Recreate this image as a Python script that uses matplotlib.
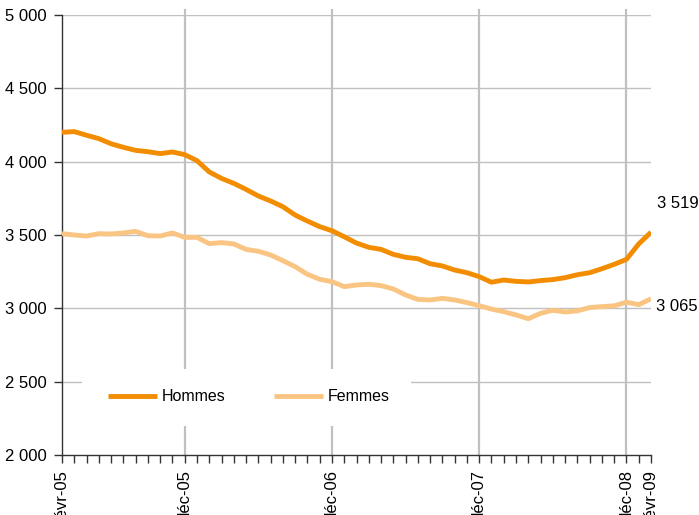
import matplotlib
matplotlib.use("Agg")
import matplotlib.pyplot as plt
from matplotlib.patches import Rectangle

plt.rcParams['font.family'] = ['Liberation Sans', 'DejaVu Sans']

months = ["févr-05", "mars-05", "avr-05", "mai-05", "juin-05", "juil-05", "août-05", "sept-05", "oct-05", "nov-05", "déc-05",
          "janv-06", "févr-06", "mars-06", "avr-06", "mai-06", "juin-06", "juil-06", "août-06", "sept-06", "oct-06", "nov-06", "déc-06",
          "janv-07", "févr-07", "mars-07", "avr-07", "mai-07", "juin-07", "juil-07", "août-07", "sept-07", "oct-07", "nov-07", "déc-07",
          "janv-08", "févr-08", "mars-08", "avr-08", "mai-08", "juin-08", "juil-08", "août-08", "sept-08", "oct-08", "nov-08", "déc-08",
          "janv-09", "févr-09"]

hommes = [4200, 4205, 4180, 4157, 4122, 4098, 4077, 4068, 4055, 4066, 4048,
          4007, 3930, 3886, 3852, 3811, 3766, 3732, 3693, 3636, 3595, 3557, 3529,
          3488, 3445, 3416, 3402, 3368, 3348, 3338, 3304, 3289, 3261, 3243, 3216,
          3178, 3193, 3184, 3180, 3189, 3196, 3209, 3229, 3243, 3270, 3300, 3334,
          3439, 3519]

femmes = [3509, 3500, 3493, 3509, 3507, 3514, 3525, 3495, 3493, 3514, 3484,
          3484, 3441, 3448, 3439, 3402, 3389, 3364, 3325, 3284, 3232, 3198, 3182,
          3148, 3159, 3164, 3155, 3132, 3091, 3061, 3057, 3068, 3057, 3039, 3018,
          2995, 2977, 2955, 2929, 2966, 2987, 2975, 2983, 3005, 3012, 3017, 3042,
          3025, 3065]

label_months = ["févr-05", "déc-05", "déc-06", "déc-07", "déc-08", "févr-09"]
grid_months = ["déc-05", "déc-06", "déc-07", "déc-08"]
yticks = [2000, 2500, 3000, 3500, 4000, 4500, 5000]

c_h = '#F28C00'
c_f = '#FAC583'
grid_c = '#C0C0C0'

fig = plt.figure(figsize=(6.99, 5.15), dpi=100)
ax = fig.add_axes([62/699, 1-455/515, 589/699, 440/515])

x = list(range(len(months)))
ax.plot(x, hommes, color=c_h, lw=3.5, solid_capstyle='butt', solid_joinstyle='round', label='Hommes', zorder=4)
ax.plot(x, femmes, color=c_f, lw=3.5, solid_capstyle='butt', solid_joinstyle='round', label='Femmes', zorder=3)

ax.set_xlim(0, len(months) - 1)
ax.set_ylim(2000, 5000)

# horizontal gridlines
for yv in yticks[1:]:
    ax.axhline(yv, color=grid_c, lw=1.0, zorder=1)
# vertical gridlines
for m in grid_months:
    ax.axvline(months.index(m), ymin=0, ymax=1.012, color=grid_c, lw=1.6, zorder=1, clip_on=False)

# white box behind legend
ax.add_patch(Rectangle((0.034, 0.066), 0.559, 0.13, transform=ax.transAxes,
                       facecolor='white', edgecolor='none', zorder=2))

leg = ax.legend(loc='center left', bbox_to_anchor=(0.078, 0.132), ncol=2, frameon=False,
                fontsize=11.5, handlelength=3.1, handletextpad=0.3, columnspacing=3.0,
                borderaxespad=0, borderpad=0)
for lh in leg.get_lines():
    lh.set_linewidth(3.5)
leg.set_zorder(5)

ax.set_yticks(yticks)
ax.set_yticklabels([f"{v:,}".replace(",", " ") for v in yticks], fontsize=12)
ax.set_xticks(x, minor=True)
ax.set_xticks([months.index(m) for m in label_months])
ax.set_xticklabels(label_months, rotation=90, fontsize=12, va='top', ha='center')

ax.tick_params(axis='y', direction='out', length=6, width=1, color='#333333', pad=5)
ax.tick_params(axis='x', which='both', direction='out', length=6, width=1, color='#333333', pad=5)

for s in ['top', 'right']:
    ax.spines[s].set_visible(False)
for s in ['left', 'bottom']:
    ax.spines[s].set_color('#333333')
    ax.spines[s].set_linewidth(1.0)

ax.annotate(f"{hommes[-1]:,}".replace(",", " "), xy=(x[-1], hommes[-1]), xytext=(6, 29),
            textcoords='offset pixels', ha='left', va='center', fontsize=12, annotation_clip=False)
ax.annotate(f"{femmes[-1]:,}".replace(",", " "), xy=(x[-1], femmes[-1]), xytext=(5, -8),
            textcoords='offset pixels', ha='left', va='center', fontsize=12, annotation_clip=False)

fig.savefig("out.png", dpi=100)
